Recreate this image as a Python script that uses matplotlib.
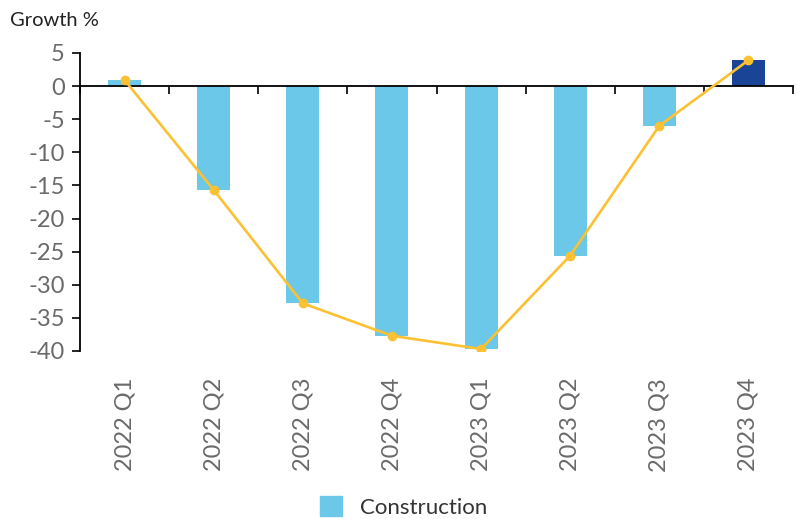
import matplotlib.pyplot as plt
from matplotlib.patches import Patch
from matplotlib.transforms import blended_transform_factory

# quarterly construction growth
quarters = ["2022 Q1", "2022 Q2", "2022 Q3", "2022 Q4",
            "2023 Q1", "2023 Q2", "2023 Q3", "2023 Q4"]
growth = [0.9, -15.7, -32.8, -37.7, -39.7, -25.6, -6.0, 3.9]
bar_colors = ["#6CC8E8"] * 7 + ["#1A4496"]

plt.rcParams['font.family'] = ['Lato', 'DejaVu Sans']
plt.rcParams['axes.unicode_minus'] = False

fig = plt.figure(figsize=(7.97, 5.19), dpi=100)
ax = fig.add_axes([0.1004, 0.3237, 0.8946, 0.5743])

x = list(range(len(quarters)))
ax.bar(x, growth, width=0.37, color=bar_colors, zorder=2)
ax.plot(x, growth, color="#FBC132", lw=1.9, marker="o", ms=6, zorder=3)

ax.set_xlim(-0.5, len(quarters) - 0.5)
ax.set_ylim(-40, 5)
ax.set_yticks(range(-40, 6, 5))
ax.tick_params(axis='y', labelsize=17, labelcolor="#6a6a6a", color="black",
               length=6, width=1.2, pad=5)

# zero line with ticks at category boundaries
ax.spines['bottom'].set_position(('data', 0))
ax.spines['bottom'].set_linewidth(1.3)
ax.spines['left'].set_linewidth(1.3)
ax.spines['top'].set_visible(False)
ax.spines['right'].set_visible(False)
ax.set_xticks([i - 0.5 for i in range(len(quarters) + 1)])
ax.set_xticklabels([])
ax.tick_params(axis='x', length=6, width=1.2, color="black")

trans = blended_transform_factory(ax.transData, ax.transAxes)
for i, q in enumerate(quarters):
    ax.text(i, -0.09, q, transform=trans, rotation=90, ha='center', va='top',
            fontsize=17, color="#6a6a6a")

fig.text(0.013, 0.96, "Growth %", fontsize=14.5, color="#222222", va='center')

fig.legend(handles=[Patch(color="#6CC8E8", label="Construction")],
           loc='center', bbox_to_anchor=(0.506, 0.023), frameon=False,
           fontsize=16, handlelength=1.0, handleheight=1.0, handletextpad=0.8,
           labelcolor="#333333")

fig.savefig("out.png", dpi=100)
